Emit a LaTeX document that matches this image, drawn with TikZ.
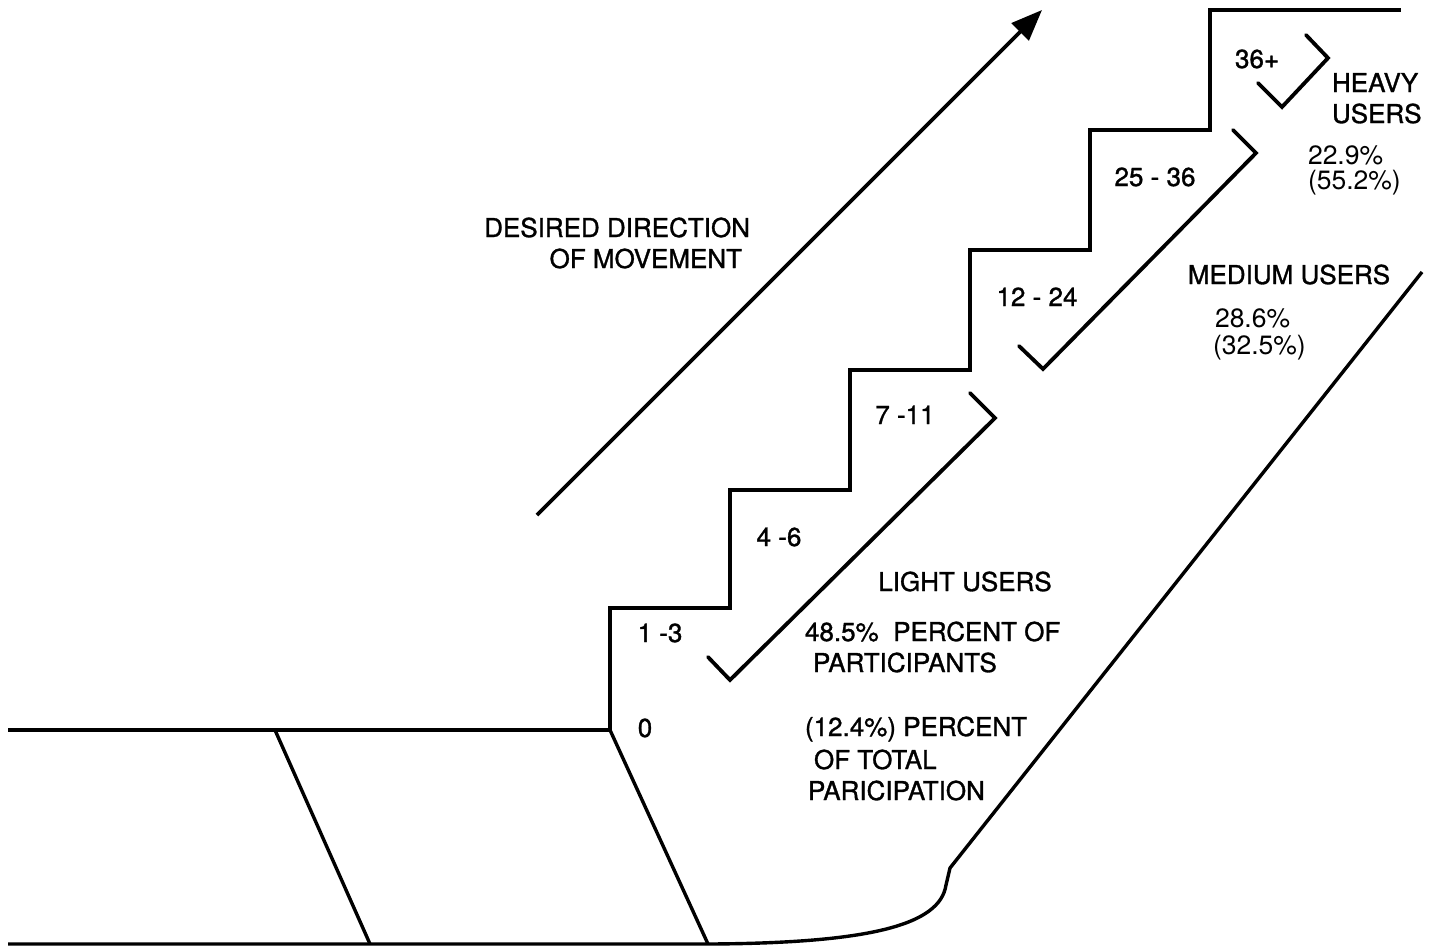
\documentclass[tikz,border=0pt]{standalone}
\usepackage{fontspec}
\setmainfont{TeX Gyre Heros}
\newfontfamily\lblfont[FakeBold=1.2]{TeX Gyre Heros}
\usetikzlibrary{arrows.meta}
\tikzset{
  wall/.style={line width=3.4pt, line join=miter, line cap=butt},
  rail/.style={line width=3.8pt, line join=miter, line cap=round},
  lbl/.style={inner sep=0pt, outer sep=0pt, font=\lblfont\fontsize{26}{30}\selectfont},
  pct/.style={inner sep=0pt, outer sep=0pt, font=\fontsize{26.5}{30}\selectfont},
}
\begin{document}
\begin{tikzpicture}[x=1pt,y=-1pt]
\useasboundingbox (0,0) rectangle (1439,948);
% floor and stairs
\draw[wall] (8,730) -- (610,730) -- (610,608) -- (730,608) -- (730,490) -- (850,490)
  -- (850,370) -- (970,370) -- (970,250) -- (1090,250) -- (1090,130) -- (1210,130)
  -- (1210,10) -- (1401,10);
\draw[wall] (275,730) -- (370,944);
\draw[wall] (610,730) -- (708,944);
\draw[wall] (8,944) -- (710,944) .. controls (870,943) and (940,925) .. (946,885)
  -- (950,868) -- (1422,272);
% handrails
\draw[rail] (708,657) -- (730,680) -- (995,418) -- (970,393);
\draw[rail] (1019,346) -- (1043,369) -- (1256,153) -- (1233,130);
\draw[rail] (1258,83) -- (1282,107) -- (1328,58) -- (1306,35);
% direction arrow
\coordinate (arrS) at (537,515);
\coordinate (arrE) at (1042,10);
\draw[line width=3.6pt, -{Triangle[length=31pt,width=24pt]}] (arrS) -- (arrE);
% labels
\node[lbl, anchor=base east] (dd1) at (750,237) {DESIRED DIRECTION};
\node[lbl, anchor=base east] (dd2) at (742,268) {OF MOVEMENT};
\node[lbl, anchor=base west] (s36) at (1235,68) {36+};
\node[lbl, anchor=base west] (hv1) at (1332,92) {HEAVY};
\node[lbl, anchor=base west] (hv2) at (1332,123) {USERS};
\node[pct, anchor=base west] (hp1) at (1308,164) {22.9\%};
\node[pct, anchor=base west] (hp2) at (1308,189) {(55.2\%)};
\node[lbl, anchor=base] (s25) at (1155,186) {25 - 36};
\node[lbl, anchor=base] (s12) at (1037,306) {12 - 24};
\node[lbl, anchor=base] (s7) at (905,424) {7 -11};
\node[lbl, anchor=base] (s4) at (779,546) {4 -6};
\node[lbl, anchor=base] (s1) at (660,642) {1 -3};
\node[lbl, anchor=base] (s0) at (645,737) {0};
\node[lbl, anchor=base] (med) at (1289,284) {MEDIUM USERS};
\node[pct, anchor=base west] (mp1) at (1215,327) {28.6\%};
\node[pct, anchor=base west] (mp2) at (1213,354) {(32.5\%)};
\node[lbl, anchor=base] (lig) at (965,591) {LIGHT USERS};
\node[lbl, anchor=base west] (lp1) at (805,641) {48.5\%\ \ PERCENT OF};
\node[lbl, anchor=base west] (lp2) at (813,672) {PARTICIPANTS};
\node[lbl, anchor=base west] (lt1) at (805,736) {(12.4\%) PERCENT};
\node[lbl, anchor=base west] (lt2) at (814,769) {OF TOTAL};
\node[lbl, anchor=base west] (lt3) at (808,800) {PARICIPATION};
\end{tikzpicture}
\end{document}
